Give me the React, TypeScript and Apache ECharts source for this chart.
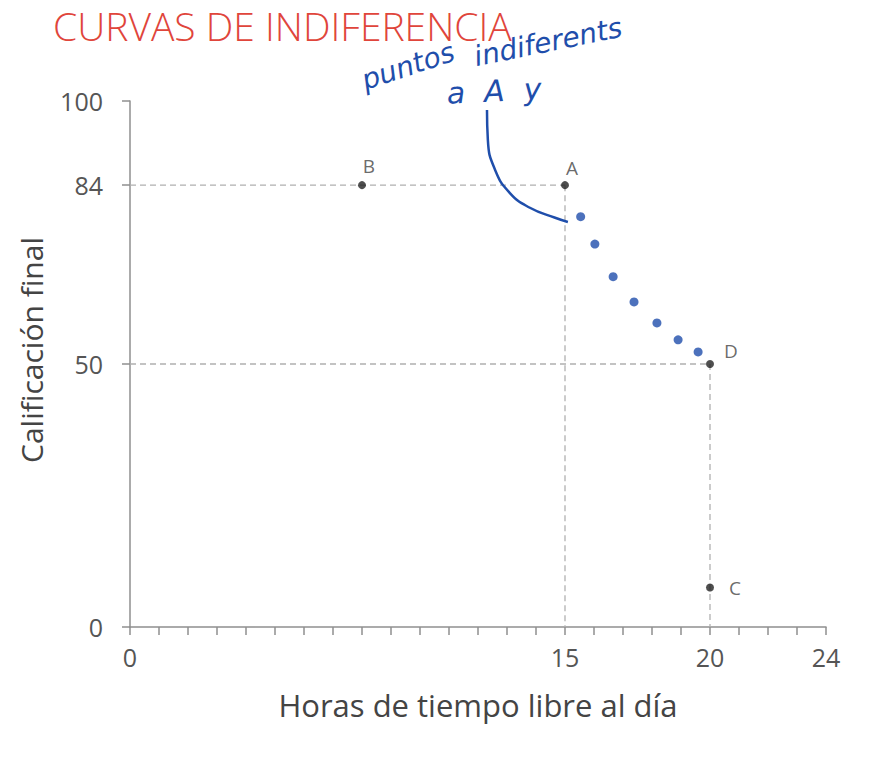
import React, { useEffect, useRef } from "react";
import * as echarts from "echarts";

const pointNames = ["A", "B", "C", "D"];
const pointX = [15, 8, 20, 20];
const pointY = [84, 84, 7.5, 50];
const labelOffsets: [number, number][] = [[7, -17], [7, -19], [25, 0], [21, -13]];

const indiffX = [15.54, 16.03, 16.66, 17.38, 18.17, 18.9, 19.59];
const indiffY = [78.0, 72.8, 66.6, 61.8, 57.8, 54.6, 52.3];

const arrowX = [12.31, 12.34, 12.59, 13.1, 13.79, 14.66, 15.1];
const arrowY = [98.3, 92.6, 86.9, 82.5, 79.7, 77.8, 77.0];

const xLabels = [0, 15, 20, 24];
const yLabels = [0, 50, 84, 100];

const guideLines: [number, number][][] = [
  [[0, 84], [15, 84]],
  [[15, 84], [15, 0]],
  [[0, 50], [20, 50]],
  [[20, 50], [20, 0]],
];

const title = "CURVAS DE INDIFERENCIA";
const xName = "Horas de tiempo libre al día";
const yName = "Calificación final";
const note1a = "puntos";
const note1b = "indiferents";
const note2 = "a  A  y";

export default function App() {
  const ref = useRef<HTMLDivElement>(null);
  useEffect(() => {
    if (!ref.current) return;
    const chart = echarts.init(ref.current, null, { renderer: "svg" });
    const blue = "#1f4eab";
    const font = "'Open Sans', 'Noto Sans', sans-serif";
    const hand = "'DejaVu Sans', sans-serif";
    chart.setOption({
      animation: false,
      backgroundColor: "#ffffff",
      grid: { left: 130, top: 101, right: 52, bottom: 139, containLabel: false },
      xAxis: {
        type: "value",
        min: 0,
        max: 24,
        interval: 1,
        splitLine: { show: false },
        axisLine: { show: true, onZero: false, lineStyle: { color: "#8f8f8f", width: 1.5 } },
        axisTick: { show: true, inside: false, length: 8, lineStyle: { color: "#8f8f8f", width: 1.5 } },
        axisLabel: {
          show: true,
          margin: 17,
          color: "#555",
          fontSize: 25,
          fontFamily: font,
          formatter: (v: number) => (xLabels.includes(v) ? String(v) : ""),
        },
        name: xName,
        nameLocation: "middle",
        nameGap: 62,
        nameTextStyle: { color: "#444", fontSize: 31, fontFamily: font },
      },
      yAxis: {
        type: "value",
        min: 0,
        max: 100,
        splitLine: { show: false },
        axisLine: { show: true, onZero: false, lineStyle: { color: "#8f8f8f", width: 1.5 } },
        axisTick: { show: true, length: 8, customValues: yLabels, lineStyle: { color: "#8f8f8f", width: 1.5 } },
        axisLabel: {
          show: true,
          customValues: yLabels,
          margin: 27,
          color: "#555",
          fontSize: 25,
          fontFamily: font,
        },
      },
      series: [
        ...guideLines.map((seg) => ({
          type: "line",
          data: seg,
          symbol: "none",
          silent: true,
          lineStyle: { color: "#b0b0b0", width: 1.3, type: [6, 4] },
          z: 1,
        })),
        {
          type: "scatter",
          data: pointX.map((x, i) => ({
            value: [x, pointY[i]],
            name: pointNames[i],
            label: { offset: labelOffsets[i] },
          })),
          symbol: "circle",
          symbolSize: 8,
          itemStyle: { color: "#222" },
          label: {
            show: true,
            position: "inside",
            formatter: (p: any) => p.name,
            color: "#444",
            fontSize: 19,
            fontFamily: font,
          },
          z: 5,
        },
        {
          type: "scatter",
          data: indiffX.map((x, i) => [x, indiffY[i]]),
          symbol: "circle",
          symbolSize: 9,
          itemStyle: { color: blue },
          z: 6,
        },
        {
          type: "line",
          data: arrowX.map((x, i) => [x, arrowY[i]]),
          smooth: true,
          symbol: "none",
          lineStyle: { color: blue, width: 2.5 },
          z: 6,
        },
      ],
      graphic: [
        {
          type: "text",
          left: 53,
          top: 6,
          style: {
            text: title,
            fill: "#e0453b",
            fontSize: 39,
            fontFamily: font,
            fontWeight: 300,
          },
        },
        {
          type: "text",
          x: 31,
          y: 350,
          rotation: Math.PI / 2,
          style: {
            text: yName,
            fill: "#444",
            fontSize: 30,
            fontFamily: font,
            align: "center",
            verticalAlign: "middle",
          },
        },
        {
          type: "text",
          x: 408,
          y: 66,
          rotation: 0.32,
          style: {
            text: note1a,
            fill: blue,
            fontSize: 28,
            fontStyle: "italic",
            fontFamily: hand,
            align: "center",
            verticalAlign: "middle",
          },
        },
        {
          type: "text",
          x: 548,
          y: 42,
          rotation: 0.2,
          style: {
            text: note1b,
            fill: blue,
            fontSize: 28,
            fontStyle: "italic",
            fontFamily: hand,
            align: "center",
            verticalAlign: "middle",
          },
        },
        {
          type: "text",
          x: 494,
          y: 91,
          rotation: 0.05,
          style: {
            text: note2,
            fill: blue,
            fontSize: 30,
            fontStyle: "italic",
            fontFamily: hand,
            align: "center",
            verticalAlign: "middle",
          },
        },
      ],
    });
    return () => chart.dispose();
  }, []);
  return (
    <div
      ref={ref}
      style={{ position: "absolute", left: 0, top: 0, width: 878, height: 766 }}
    />
  );
}
